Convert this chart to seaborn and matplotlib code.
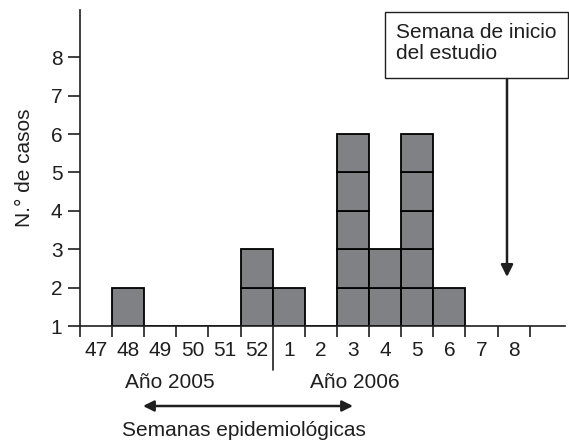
import pandas as pd
import seaborn as sns
from matplotlib import pyplot as plt
from matplotlib.patches import Rectangle

# epidemiological weeks (end of 2005 -> start of 2006) and cases per week
weeks = ["47", "48", "49", "50", "51", "52", "1", "2", "3", "4", "5", "6", "7", "8"]
cases = [0, 1, 0, 0, 0, 2, 1, 0, 5, 2, 5, 1, 0, 0]
y_labels = ["1", "2", "3", "4", "5", "6", "7", "8"]

# one row per case, so every case becomes its own square
rows = []
for pos, n in enumerate(cases):
    for level in range(1, n + 1):
        rows.append({"pos": pos, "level": str(level)})
df = pd.DataFrame(rows)

W, H = 569, 442
gray = "#808185"
ink = "#1f1f1f"
fs = 15

sns.set_style("white")
plt.rcParams["font.family"] = ["Liberation Sans", "DejaVu Sans"]

fig = plt.figure(figsize=(W / 100, H / 100), dpi=100)
ax = fig.add_axes([80 / W, 1 - 326 / H, (565 - 80) / W, (326 - 10) / H])

levels = [str(i) for i in range(1, max(cases) + 1)]
sns.histplot(data=df, x="pos", hue="level", hue_order=levels, multiple="stack",
             discrete=True, palette=[gray] * len(levels), edgecolor="black",
             linewidth=1.3, alpha=1, legend=False, ax=ax)

ax.set_xlim(-0.5, 14.6)
ax.set_ylim(0, 8.23)

for side in ["top", "right"]:
    ax.spines[side].set_visible(False)
for side in ["left", "bottom"]:
    ax.spines[side].set_color(ink)
    ax.spines[side].set_linewidth(1.2)

ax.set_yticks(range(len(y_labels)))
ax.set_yticklabels(y_labels)
ax.tick_params(axis="y", direction="out", length=8.6, width=1.2, color=ink,
               labelsize=fs, pad=4, labelcolor=ink, left=True)

ax.set_xticks(range(len(weeks)))
ax.set_xticklabels(weeks)
edges = [i - 0.5 for i in range(len(weeks) + 1) if i != 6]
ax.set_xticks(edges, minor=True)
ax.tick_params(axis="x", which="major", length=0, labelsize=fs, pad=11,
               labelcolor=ink)
ax.tick_params(axis="x", which="minor", direction="out", length=8, width=1.2,
               color=ink, bottom=True)

ax.set_xlabel("")
ax.set_ylabel("N.° de casos", fontsize=fs, color=ink, labelpad=12)

# year separator
ax.plot([5.5, 5.5], [0, -1.15], color=ink, lw=1.2, clip_on=False)

# texts below the axis
fig.text(170 / W, 1 - 383 / H, "Año 2005", ha="center", va="center", fontsize=fs, color=ink)
fig.text(355 / W, 1 - 383 / H, "Año 2006", ha="center", va="center", fontsize=fs, color=ink)
fig.text(244 / W, 1 - 430 / H, "Semanas epidemiológicas", ha="center", va="center",
         fontsize=fs, color=ink)
ax.annotate("", xy=(143 / W, 1 - 406 / H), xytext=(353 / W, 1 - 406 / H),
            xycoords="figure fraction", textcoords="figure fraction",
            arrowprops=dict(arrowstyle="<|-|>", color=ink, lw=1.8,
                            mutation_scale=16, shrinkA=0, shrinkB=0))

# study start box and arrow
fig.patches.append(Rectangle((385 / W, 1 - 78 / H), (568 - 385) / W, (78 - 12) / H,
                             transform=fig.transFigure, fill=False,
                             edgecolor=ink, linewidth=1.0))
fig.text(396 / W, 1 - 43 / H, "Semana de inicio\ndel estudio", ha="left", va="center",
         fontsize=fs, color=ink, linespacing=1.1)
ax.annotate("", xy=(507 / W, 1 - 277 / H), xytext=(507 / W, 1 - 79 / H),
            xycoords="figure fraction", textcoords="figure fraction",
            arrowprops=dict(arrowstyle="-|>", color=ink, lw=1.8,
                            mutation_scale=18, shrinkA=0, shrinkB=0))

fig.savefig("out.png", dpi=100)
